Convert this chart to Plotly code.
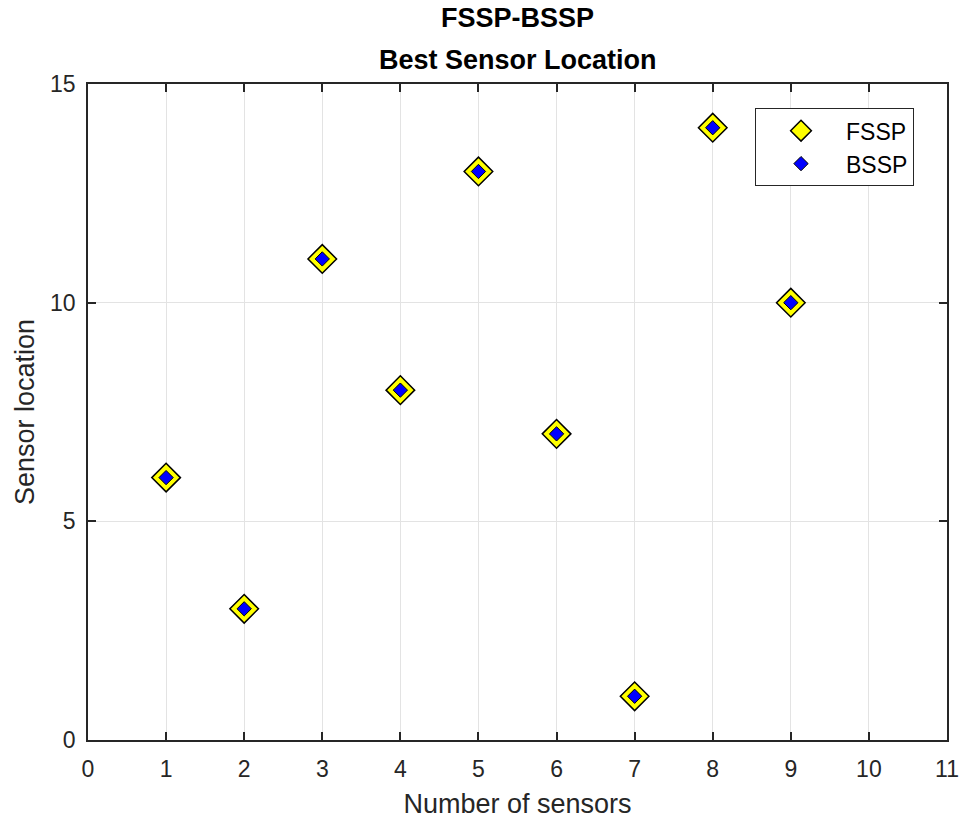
import plotly.graph_objects as go

num_sensors = [1, 2, 3, 4, 5, 6, 7, 8, 9]
fssp_loc = [6, 3, 11, 8, 13, 7, 1, 14, 10]
bssp_loc = [6, 3, 11, 8, 13, 7, 1, 14, 10]
x_ticks = list(range(0, 12))
y_ticks = [0, 5, 10, 15]

FONT = "Liberation Sans, Arial, sans-serif"

fig = go.Figure()
fig.add_trace(go.Scatter(
    x=num_sensors, y=fssp_loc, mode="markers", name="FSSP",
    marker=dict(symbol="diamond", size=22, color="#ffff00",
                line=dict(color="black", width=1.5))))
fig.add_trace(go.Scatter(
    x=num_sensors, y=bssp_loc, mode="markers", name="BSSP",
    marker=dict(symbol="diamond", size=11, color="#0000ff",
                line=dict(color="black", width=1))))

axis_common = dict(
    showline=True, linecolor="#262626", linewidth=1.5, mirror="ticks",
    ticks="inside", ticklen=8, tickcolor="#262626", tickwidth=1.5,
    showgrid=True, gridcolor="#e3e3e3", gridwidth=1, zeroline=False,
    automargin=False,
    tickfont=dict(family=FONT, size=23, color="#262626"),
)

fig.update_layout(
    width=962, height=826,
    margin=dict(l=88, r=15, t=84, b=86, autoexpand=False),
    paper_bgcolor="white", plot_bgcolor="white",
    xaxis=dict(range=[0, 11], tickvals=x_ticks, ticklabelstandoff=8,
               title=dict(text="Number of sensors", standoff=13,
                          font=dict(family=FONT, size=27, color="#262626")),
               **axis_common),
    yaxis=dict(range=[0, 15], tickvals=y_ticks, ticklabelstandoff=6,
               title=dict(text="Sensor location", standoff=8,
                          font=dict(family=FONT, size=27, color="#262626")),
               **axis_common),
    legend=dict(x=0.7765, y=0.963, xanchor="left", yanchor="top",
                bgcolor="white", bordercolor="#262626", borderwidth=1,
                font=dict(family=FONT, size=23, color="black"),
                itemsizing="trace", itemwidth=80),
    showlegend=True,
    annotations=[
        dict(text="<b>FSSP-BSSP</b>", xref="paper", yref="paper",
             x=0.5, y=1.100, xanchor="center", yanchor="middle", showarrow=False,
             font=dict(family=FONT, size=27, color="black")),
        dict(text="<b>Best Sensor Location</b>", xref="paper", yref="paper",
             x=0.5, y=1.0366, xanchor="center", yanchor="middle", showarrow=False,
             font=dict(family=FONT, size=27, color="black")),
    ],
)

fig.write_html(
    "out.html",
    config={"displayModeBar": False},
    post_script="document.body.style.margin='0';document.body.style.overflow='hidden';",
)
